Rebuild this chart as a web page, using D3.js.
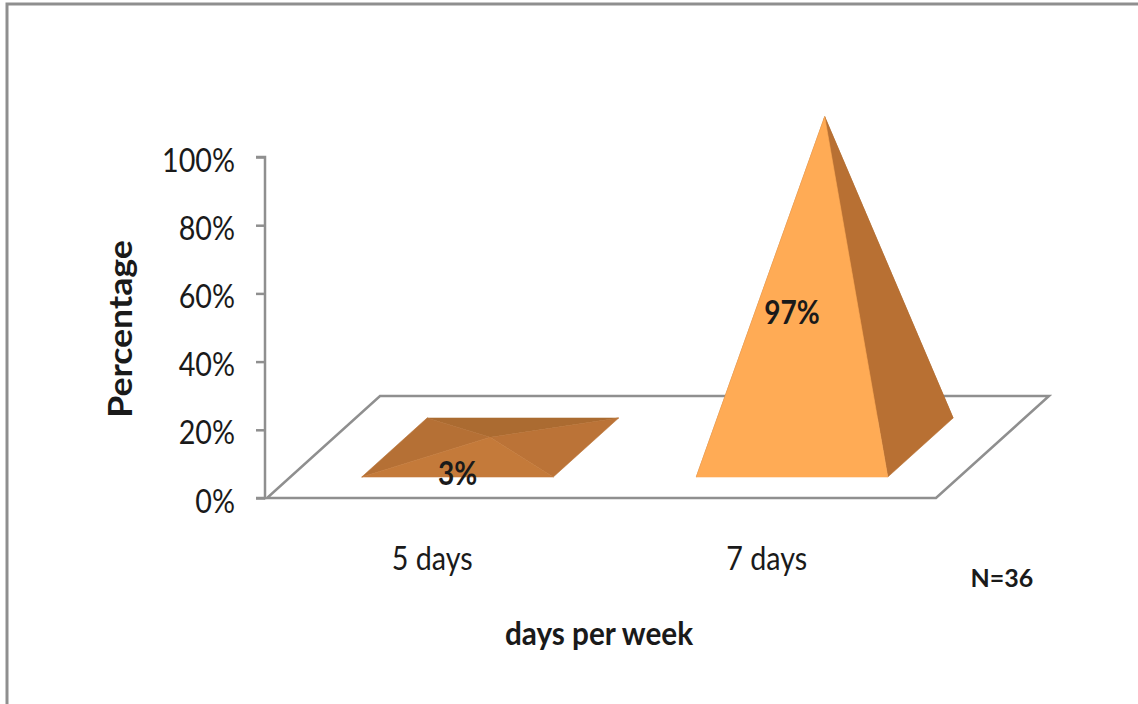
<!DOCTYPE html>
<html>
<head>
<meta charset="utf-8">
<script src="https://cdn.jsdelivr.net/npm/d3@7/dist/d3.min.js"></script>
<style>
  html, body { margin: 0; padding: 0; background: #fff; }
  svg { display: block; }
  text { font-family: "Lato", "Open Sans", sans-serif; fill: #1a1a1a; }
</style>
</head>
<body>
<svg id="chart" width="1138" height="704"></svg>
<script>
// Share of respondents by days worked per week
const categories = ["5 days", "7 days"];
const percentages = [3, 97];
const percentTicks = [0, 20, 40, 60, 80, 100];
const xAxisTitle = "days per week";
const yAxisTitle = "Percentage";
const sampleNote = "N=36";

const svg = d3.select("#chart");
const grey = "#8f8f8f";

// Narrow or widen the glyphs horizontally while keeping their height
function condense(selection, factor) {
  selection.each(function () {
    const natural = this.getComputedTextLength();
    d3.select(this)
      .attr("textLength", natural * factor)
      .attr("lengthAdjust", "spacingAndGlyphs");
  });
}

// Frame around the figure, open on the right and at the bottom
svg.append("path")
  .attr("d", d3.line()([[7, 704], [7, 4], [1138, 4]]))
  .attr("fill", "none").attr("stroke", grey).attr("stroke-width", 3);

const floorLeft = 267, floorRight = 936, floorY = 498;

const y = d3.scaleLinear().domain([0, 100]).range([floorY, 157]);
const x = d3.scaleBand().domain(categories).range([floorLeft, floorRight])
  .paddingInner(0.4275).paddingOuter(0.2137);

// Oblique projection: depth 0 is the front edge of the floor, depth 1 the back edge
const depthX = d3.scaleLinear().domain([0, 1]).range([0, 113]);
const depthY = d3.scaleLinear().domain([0, 1]).range([0, 102]);
const project = (sx, depth, value) => [
  sx + depthX(depth),
  y(value) - depthY(depth)
];

// Floor of the 3D plot
const floor = [
  project(floorLeft, 0, 0), project(floorRight, 0, 0),
  project(floorRight, 1, 0), project(floorLeft, 1, 0)
];
svg.append("path")
  .attr("d", d3.line().curve(d3.curveLinearClosed)(floor))
  .attr("fill", "#fff").attr("stroke", grey).attr("stroke-width", 2.5);

// Value axis
const yAxis = d3.axisLeft(y)
  .tickValues(percentTicks)
  .tickFormat(d => d + "%")
  .tickSize(9).tickPadding(21);
const yAxisG = svg.append("g").attr("transform", "translate(265,0)").call(yAxis);
yAxisG.selectAll("path, line").attr("stroke", grey).attr("stroke-width", 2.5);
yAxisG.select(".domain").attr("d", `M-9,${y(100)}H0V${y(0)}H-9`);
yAxisG.selectAll("text")
  .attr("font-size", 33).attr("font-family", null).attr("dy", "14px")
  .attr("fill", "#1a1a1a")
  .call(condense, 0.87);

// Pyramids: four sloped faces meeting over the centre of the base
const baseFront = 0.206, baseBack = 0.784, baseMid = (baseFront + baseBack) / 2;
const lowFaces = { back: "#ab6b31", left: "#b57035", right: "#bb7337", front: "#c47a3a" };
const tallFaces = { back: "#ab6b31", left: "#b57035", right: "#b87033", front: "#ffab55" };

const pyramids = svg.append("g").selectAll("g")
  .data(categories.map((c, i) => ({ category: c, value: percentages[i] })))
  .join("g");

pyramids.each(function (d) {
  const g = d3.select(this);
  const x0 = x(d.category), x1 = x0 + x.bandwidth();
  const fl = project(x0, baseFront, 0), fr = project(x1, baseFront, 0);
  const br = project(x1, baseBack, 0), bl = project(x0, baseBack, 0);
  const apex = project((x0 + x1) / 2, baseMid, d.value);
  const colours = d.value > 50 ? tallFaces : lowFaces;
  const face = (a, b, fill) => g.append("path")
    .attr("d", d3.line().curve(d3.curveLinearClosed)([a, b, apex]))
    .attr("fill", fill)
    .attr("stroke", fill).attr("stroke-width", 0.6);
  face(bl, br, colours.back);
  face(fl, bl, colours.left);
  face(fr, br, colours.right);
  face(fl, fr, colours.front);

  // Value label at half the pyramid's height above its front edge
  g.append("text")
    .attr("x", (fl[0] + fr[0]) / 2)
    .attr("y", fl[1] + 1 - (y(0) - y(d.value)) / 2)
    .attr("dy", "0.36em")
    .attr("text-anchor", "middle")
    .attr("font-size", 33)
    .attr("font-weight", "bold")
    .attr("fill", "#111")
    .text(d.value + "%")
    .call(condense, 0.85);
});

// Category labels
svg.append("g").selectAll("text")
  .data(categories)
  .join("text")
  .attr("x", d => x(d) + x.bandwidth() / 2 - 2)
  .attr("y", 570)
  .attr("text-anchor", "middle")
  .attr("font-size", 33)
  .text(d => d)
  .call(condense, 0.87);

// Axis titles and sample size
svg.append("text")
  .attr("x", 599).attr("y", 645)
  .attr("text-anchor", "middle")
  .attr("font-size", 33).attr("font-weight", "bold")
  .text(xAxisTitle)
  .call(condense, 0.9);

svg.append("text")
  .attr("transform", "translate(132,329) rotate(-90)")
  .attr("text-anchor", "middle")
  .attr("font-size", 33).attr("font-weight", "bold")
  .text(yAxisTitle)
  .call(condense, 1.08);

svg.append("text")
  .attr("x", 1002).attr("y", 587)
  .attr("text-anchor", "middle")
  .attr("font-size", 25).attr("font-weight", "bold")
  .text(sampleNote);
</script>
</body>
</html>
